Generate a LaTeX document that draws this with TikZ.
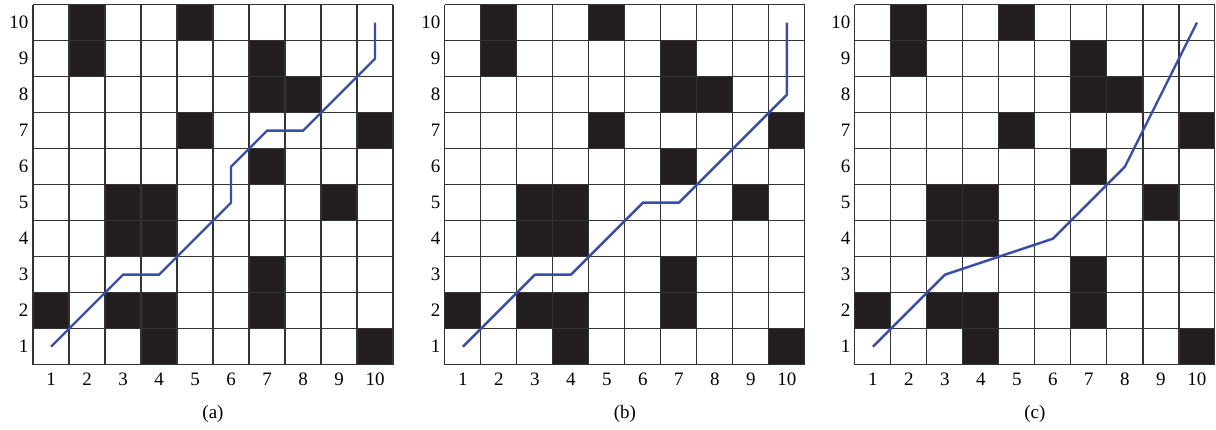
\documentclass[tikz,border=0pt]{standalone}
\usepackage{fontspec}
\setmainfont{Liberation Serif}
\usepackage{tikz}
\usetikzlibrary{positioning}
\definecolor{pathblue}{HTML}{3A4DA6}
\definecolor{blockfill}{HTML}{231F20}
\definecolor{gridline}{HTML}{333333}

\begin{document}
\begin{tikzpicture}[x=1cm, y=1cm,
    every node/.style={font=\fontsize{15}{18}\selectfont},
    block/.style={fill=blockfill},
    mapgrid/.style={draw=gridline, line width=0.9pt},
    route/.style={draw=pathblue, line width=1.9pt, line join=round}]
  \useasboundingbox (-0.917,-1.797) rectangle (32.86,10.13);
  \foreach \ox/\lab in {0/a, 11.44/b, 22.83/c} {
    \begin{scope}[xshift=\ox cm]
      \foreach \c/\r in {2/10,5/10,2/9,7/9,7/8,8/8,5/7,10/7,7/6,3/5,4/5,9/5,3/4,4/4,7/3,1/2,3/2,4/2,7/2,4/1,10/1}
        \fill[block] (\c-1,\r-1) rectangle (\c,\r);
      \draw[mapgrid] (0,0) grid (10,10);
      \foreach \i in {1,...,10} {
        \node (x\lab\i) at (\i-0.5,-0.4) {\i};
        \node[anchor=east, inner sep=0pt] (y\lab\i) at (-0.12,\i-0.5) {\i};
      }
      \node (cap\lab) at (5,-1.38) {(\lab)};
    \end{scope}
  }
  % planned routes, cell centres
  \begin{scope}[shift={(-0.5,-0.5)}]
    \draw[route] (1,1) -- (3,3) -- (4,3) -- (6,5) -- (6,6) -- (7,7) -- (8,7) -- (10,9) -- (10,10);
  \end{scope}
  \begin{scope}[shift={(10.94,-0.5)}]
    \draw[route] (1,1) -- (3,3) -- (4,3) -- (6,5) -- (7,5) -- (10,8) -- (10,10);
  \end{scope}
  \begin{scope}[shift={(22.33,-0.5)}]
    \draw[route] (1,1) -- (3,3) -- (6,4) -- (8,6) -- (10,10);
  \end{scope}
\end{tikzpicture}
\end{document}
